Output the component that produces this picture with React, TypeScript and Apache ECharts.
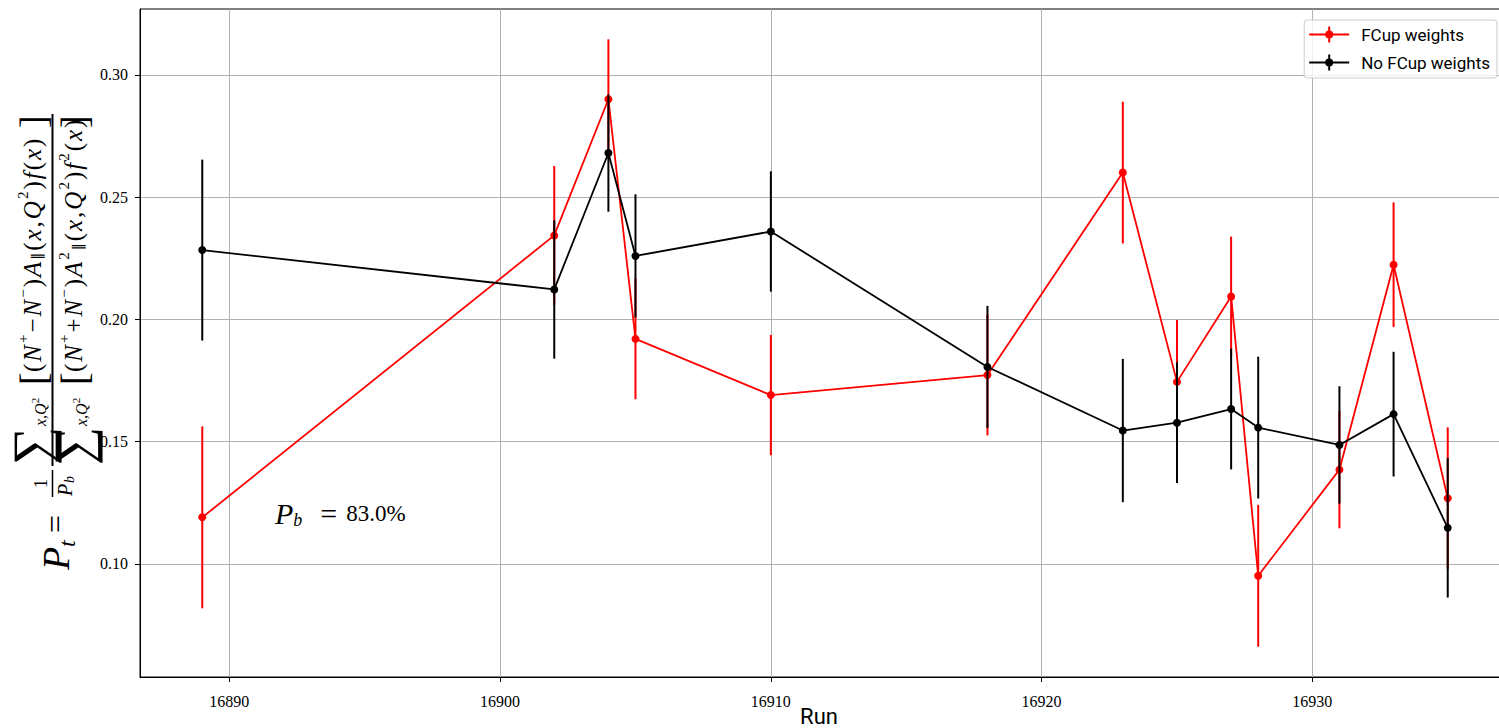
import React, { useEffect, useRef } from 'react';
import * as echarts from 'echarts';

// ---- data ----
const runs = [16889, 16902, 16904, 16905, 16910, 16918, 16923, 16925, 16927, 16928, 16931, 16933, 16935];
const fcupValues = [0.119, 0.2343, 0.29, 0.192, 0.169, 0.1772, 0.26, 0.1744, 0.2093, 0.0951, 0.1385, 0.2223, 0.1268];
const fcupErrors = [0.0372, 0.0284, 0.0245, 0.0247, 0.0246, 0.0247, 0.029, 0.0253, 0.0245, 0.029, 0.024, 0.0255, 0.029];
const noFcupValues = [0.2283, 0.2122, 0.268, 0.2259, 0.2359, 0.1805, 0.1545, 0.1577, 0.1633, 0.1557, 0.1486, 0.1612, 0.1147];
const noFcupErrors = [0.037, 0.0283, 0.024, 0.0252, 0.0246, 0.025, 0.0293, 0.0247, 0.0247, 0.029, 0.024, 0.0255, 0.0285];
const xTicks = [16890, 16900, 16910, 16920, 16930];
const yTicks = [0.1, 0.15, 0.2, 0.25, 0.3];
const seriesNames = ['FCup weights', 'No FCup weights'];
const seriesColors = ['#ff0000', '#000000'];
const beamPolarization = '83.0%';
const xTitle = 'Run';

const SERIF = '"Liberation Serif", "DejaVu Serif", serif';
const SANS = 'Roboto, "Noto Sans", sans-serif';

const LEGEND_ICON =
  'path://M0,7L40,7L40,9L0,9Z M19,0L21,0L21,16L19,16Z M24,8A4,4,0,1,1,16,8A4,4,0,1,1,24,8Z';

function txt(x: number, y: number, text: string, size: number, italic: boolean, extra: any = {}) {
  return {
    type: 'text',
    x,
    y,
    silent: true,
    style: {
      text,
      fontSize: size,
      fontFamily: SERIF,
      fontStyle: italic ? 'italic' : 'normal',
      fill: '#000',
      align: 'left',
      verticalAlign: 'middle',
      textAlign: 'left',
      textVerticalAlign: 'middle',
      ...extra,
    },
  };
}

const MS = 25;
const richMath = {
  m: { fontSize: MS, fontFamily: SERIF, fill: '#000', padding: [0, 1, 0, 1] },
  i: { fontSize: MS, fontFamily: SERIF, fontStyle: 'italic', fill: '#000', padding: [0, 1, 0, 1] },
  p: { fontSize: 15, fontFamily: SERIF, fill: '#000', padding: [0, 1, 20, 1] },
  b: { fontSize: 15, fontFamily: SERIF, fill: '#000', padding: [10, 1, 0, 1] },
  si: { fontSize: 16, fontFamily: SERIF, fontStyle: 'italic', fill: '#000' },
  ss: { fontSize: 11, fontFamily: SERIF, fill: '#000', padding: [0, 0, 12, 0] },
};

const numText =
  '{m|(}{i|N}{p|+}{m|\u2212}{i|N}{p|\u2212}{m|)}{i|A}{b|\u2225}{m|(}{i|x}{m|,}{i|Q}{p|2}{m|)}{i|f}{m|(}{i|x}{m|)}';
const denText =
  '{m|(}{i|N}{p|+}{m|+}{i|N}{p|\u2212}{m|)}{i|A}{p|2}{b|\u2225}{m|(}{i|x}{m|,}{i|Q}{p|2}{m|)}{i|f}{p|2}{m|(}{i|x}{m|)}';

function fractionPart(yc: number, body: string) {
  return [
    txt(105, yc - 1, '\u2211', 54, false),
    txt(144, yc + 8, '{si|x,Q}{ss|2}', 16, false, { rich: richMath }),
    txt(185, yc, '[', 38, false),
    txt(197, yc, body, MS, false, { rich: richMath }),
    txt(442, yc, ']', 38, false),
  ];
}

export default function App() {
  const ref = useRef<HTMLDivElement>(null);

  useEffect(() => {
    const chart = echarts.init(ref.current!, null, { renderer: 'svg' });

    const valueSets = [fcupValues, noFcupValues];
    const errorSets = [fcupErrors, noFcupErrors];

    const series: any[] = [];
    seriesNames.forEach((name, k) => {
      const color = seriesColors[k];
      series.push({
        type: 'custom',
        name: name + ' error',
        silent: true,
        z: 2 + k * 2,
        data: runs.map((r, i) => [r, valueSets[k][i] - errorSets[k][i], valueSets[k][i] + errorSets[k][i]]),
        encode: { x: 0, y: [1, 2] },
        renderItem: (params: any, api: any) => {
          const x = api.value(0);
          const p1 = api.coord([x, api.value(1)]);
          const p2 = api.coord([x, api.value(2)]);
          return {
            type: 'line',
            shape: { x1: p1[0], y1: p1[1], x2: p2[0], y2: p2[1] },
            style: { stroke: color, lineWidth: 2 },
          };
        },
      });
      series.push({
        type: 'line',
        name,
        z: 3 + k * 2,
        data: runs.map((r, i) => [r, valueSets[k][i]]),
        symbol: 'circle',
        symbolSize: 8,
        showSymbol: true,
        color,
        itemStyle: { color },
        lineStyle: { color, width: 1.8 },
      });
    });

    const formula = {
      type: 'group',
      x: 52.5,
      y: 570,
      rotation: Math.PI / 2,
      children: [
        txt(0, 3, 'P', 38, true),
        txt(23, 14, 't', 24, true),
        txt(37, 2, '=', 32, false),
        txt(82, -12, '1', 18, false),
        { type: 'line', silent: true, shape: { x1: 73, y1: 0, x2: 100, y2: 0 }, style: { stroke: '#000', lineWidth: 1.5 } },
        txt(74, 12, 'P', 20, true),
        txt(87, 17, 'b', 14, true),
        { type: 'line', silent: true, shape: { x1: 104, y1: 0, x2: 456, y2: 0 }, style: { stroke: '#000', lineWidth: 2 } },
        ...fractionPart(-20, numText),
        ...fractionPart(21, denText),
      ],
    };

    const option: any = {
      animation: false,
      backgroundColor: '#ffffff',
      grid: {
        left: 140,
        right: -11,
        top: 9,
        bottom: 51,
        show: true,
        containLabel: false,
        outerBoundsMode: 'none',
        borderColor: '#000',
        borderWidth: 1,
        backgroundColor: 'transparent',
      },
      xAxis: {
        type: 'value',
        min: 16886.7,
        max: 16937.3,
        name: xTitle,
        nameLocation: 'middle',
        nameGap: 28,
        nameMoveOverlap: false,
        nameTextStyle: {
          fontFamily: SANS,
          fontSize: 22,
          color: '#000',
          padding: [0, 12, 0, 0],
          verticalAlign: 'top',
        },
        axisLine: { show: true, lineStyle: { color: '#000', width: 1 } },
        axisTick: { show: true, length: 5, lineStyle: { color: '#000' }, customValues: xTicks },
        axisLabel: {
          customValues: xTicks,
          fontFamily: SERIF,
          fontSize: 16,
          color: '#000',
          margin: 16,
          formatter: (v: number) => String(v),
        },
        splitLine: { show: true, lineStyle: { color: '#b0b0b0', width: 1 } },
      },
      yAxis: {
        type: 'value',
        min: 0.0537,
        max: 0.3269,
        axisLine: { show: true, lineStyle: { color: '#000', width: 1 } },
        axisTick: { show: true, length: 5, lineStyle: { color: '#000' }, customValues: yTicks },
        axisLabel: {
          customValues: yTicks,
          fontFamily: SERIF,
          fontSize: 16,
          color: '#000',
          margin: 12,
          formatter: (v: number) => v.toFixed(2),
        },
        splitLine: { show: true, lineStyle: { color: '#b0b0b0', width: 1 } },
      },
      legend: {
        orient: 'vertical',
        right: 2,
        top: 20,
        padding: [6, 7, 7, 5],
        itemWidth: 40,
        itemHeight: 16,
        itemGap: 11,
        backgroundColor: 'rgba(255,255,255,0.8)',
        borderColor: '#cccccc',
        borderWidth: 1,
        borderRadius: 3,
        textStyle: { fontFamily: SANS, fontSize: 17, color: '#000', padding: [0, 0, 0, 7] },
        data: seriesNames.map((n) => ({ name: n, icon: LEGEND_ICON })),
      },
      graphic: [
        formula,
        {
          type: 'text',
          x: 275,
          y: 513,
          silent: true,
          style: {
            text: '{pi|P}{sb|b}{eq|=}{r|' + beamPolarization + '}',
            align: 'left',
            verticalAlign: 'middle',
            textAlign: 'left',
            textVerticalAlign: 'middle',
            rich: {
              pi: { fontSize: 30, fontFamily: SERIF, fontStyle: 'italic', fill: '#000' },
              sb: { fontSize: 18, fontFamily: SERIF, fontStyle: 'italic', fill: '#000', padding: [14, 0, 0, 0] },
              eq: { fontSize: 30, fontFamily: SERIF, fill: '#000', padding: [0, 9, 0, 18] },
              r: { fontSize: 23, fontFamily: SERIF, fill: '#000' },
            },
          },
        },
      ],
      series,
    };

    chart.setOption(option);
    return () => chart.dispose();
  }, []);

  return (
    <div
      ref={ref}
      style={{ position: 'absolute', left: 0, top: 0, width: 1499, height: 728, background: '#ffffff' }}
    />
  );
}
